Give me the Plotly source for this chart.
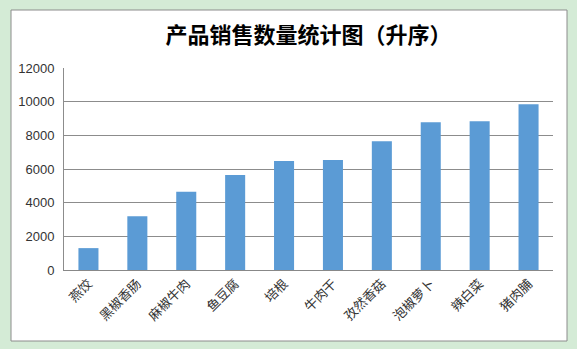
import plotly.graph_objects as go

categories = ["燕饺", "黑椒香肠", "麻椒牛肉", "鱼豆腐", "培根", "牛肉干", "孜然香菇", "泡椒萝卜", "辣白菜", "猪肉脯"]
values = [1300, 3200, 4650, 5650, 6480, 6530, 7650, 8780, 8840, 9850]
y_ticks = [0, 2000, 4000, 6000, 8000, 10000, 12000]
y_tick_labels = ["0", "2000", "4000", "6000", "8000", "10000", "12000"]
title_text = "<b>产品销售数量统计图（升序）</b>"

W, H = 577, 349
fig = go.Figure()
fig.add_trace(go.Bar(x=categories, y=values, marker=dict(color="#5B9BD5", line=dict(width=0)),
                     width=0.41))

shapes = []
# spreadsheet grid lines in the background
for xv in [8, 73, 138, 203, 270, 333, 400, 465, 530]:
    shapes.append(dict(type="line", xref="paper", yref="paper", layer="below",
                       x0=xv / W, x1=xv / W, y0=0, y1=1,
                       line=dict(color="#B5D6B8", width=1)))
for yv in range(5, H, 18):
    shapes.append(dict(type="line", xref="paper", yref="paper", layer="below",
                       x0=0, x1=1, y0=1 - yv / H, y1=1 - yv / H,
                       line=dict(color="#B5D6B8", width=1)))
# white chart area
shapes.append(dict(type="rect", xref="paper", yref="paper", layer="below",
                   x0=(11 - 64) / (553 - 64), x1=(567 - 64) / (553 - 64),
                   y0=(270 - 341) / (270 - 68), y1=(270 - 10) / (270 - 68),
                   fillcolor="white", line=dict(color="#8C8C8C", width=1)))

fig.update_layout(
    width=W, height=H,
    margin=dict(l=64, r=24, t=68, b=79),
    paper_bgcolor="#D4EBD6",
    plot_bgcolor="white",
    shapes=shapes,
    showlegend=False,
    bargap=0.59,
    title=dict(text=title_text, x=0.5, xref="paper", xanchor="center",
               y=1 - 35 / H, yanchor="middle",
               font=dict(family="Noto Sans CJK SC", size=22, color="#000000")),
    font=dict(family="Noto Sans CJK SC", size=13, color="#333333"),
)
fig.update_xaxes(showline=True, linecolor="#888888", linewidth=1, tickangle=-45,
                 ticks="", tickfont=dict(size=13, color="#333333"))
fig.update_yaxes(range=[0, 12000], tickvals=y_ticks, ticktext=y_tick_labels,
                 showgrid=True, gridcolor="#8C8C8C",
                 gridwidth=1, showline=True, linecolor="#8C8C8C", zeroline=False,
                 tickfont=dict(family="Liberation Sans, Arial", size=13, color="#333333"),
                 ticks="", ticklabelstandoff=6)
fig.write_html("out.html")
